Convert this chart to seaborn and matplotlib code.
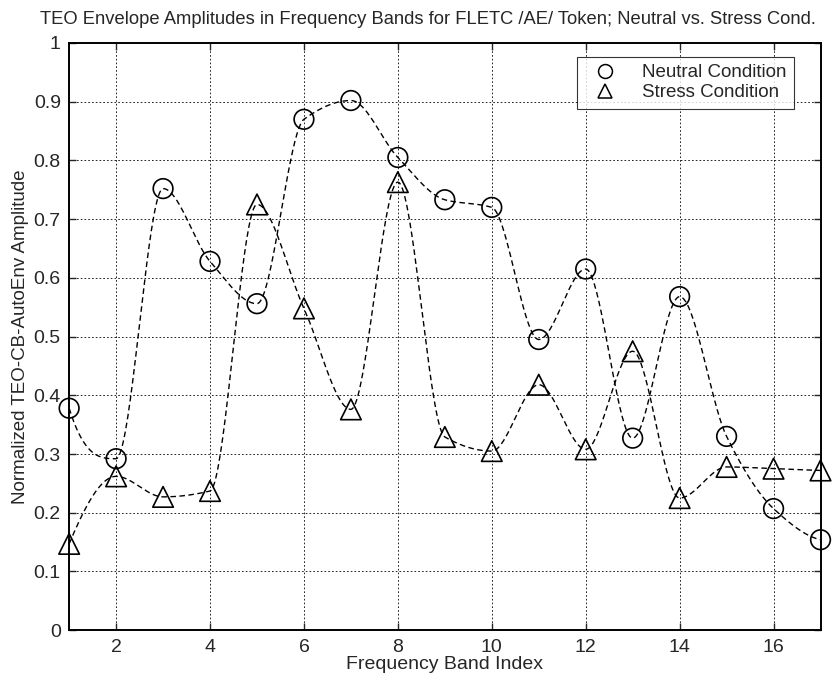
import numpy as np
import pandas as pd
import matplotlib
matplotlib.use("Agg")
import matplotlib.pyplot as plt
from matplotlib.lines import Line2D
import seaborn as sns

bands = list(range(1, 18))
neutral = [0.378, 0.292, 0.752, 0.628, 0.556, 0.870, 0.902, 0.805, 0.733,
           0.720, 0.495, 0.615, 0.327, 0.568, 0.330, 0.207, 0.154]
stress = [0.147, 0.262, 0.227, 0.237, 0.725, 0.548, 0.376, 0.763, 0.329,
          0.305, 0.418, 0.308, 0.475, 0.225, 0.278, 0.275, 0.272]
title = "TEO Envelope Amplitudes in Frequency Bands for FLETC /AE/ Token; Neutral vs. Stress Cond."
xlabel = "Frequency Band Index"
ylabel = "Normalized TEO-CB-AutoEnv Amplitude"
xticks = [2, 4, 6, 8, 10, 12, 14, 16]
yticks = [0, 0.1, 0.2, 0.3, 0.4, 0.5, 0.6, 0.7, 0.8, 0.9, 1]
ytick_labels = ["0", "0.1", "0.2", "0.3", "0.4", "0.5", "0.6", "0.7", "0.8", "0.9", "1"]


def pchip_curve(x, y, n=40):
    """Shape-preserving piecewise cubic Hermite curve through the data points."""
    x = np.asarray(x, float)
    y = np.asarray(y, float)
    h = np.diff(x)
    delta = np.diff(y) / h
    N = len(x)
    d = np.zeros(N)
    for k in range(1, N - 1):
        if np.sign(delta[k - 1]) * np.sign(delta[k]) > 0:
            w1 = 2 * h[k] + h[k - 1]
            w2 = h[k] + 2 * h[k - 1]
            d[k] = (w1 + w2) / (w1 / delta[k - 1] + w2 / delta[k])

    def end_slope(h0, h1, d0, d1):
        s = ((2 * h0 + h1) * d0 - h0 * d1) / (h0 + h1)
        if np.sign(s) != np.sign(d0):
            s = 0.0
        elif np.sign(d0) != np.sign(d1) and abs(s) > abs(3 * d0):
            s = 3 * d0
        return s

    d[0] = end_slope(h[0], h[1], delta[0], delta[1])
    d[-1] = end_slope(h[-1], h[-2], delta[-1], delta[-2])
    xs, ys = [], []
    for i in range(N - 1):
        t = np.linspace(x[i], x[i + 1], n, endpoint=(i == N - 2))
        s = (t - x[i]) / h[i]
        h00 = 2 * s ** 3 - 3 * s ** 2 + 1
        h10 = s ** 3 - 2 * s ** 2 + s
        h01 = -2 * s ** 3 + 3 * s ** 2
        h11 = s ** 3 - s ** 2
        xs.append(t)
        ys.append(h00 * y[i] + h10 * h[i] * d[i] + h01 * y[i + 1] + h11 * h[i] * d[i + 1])
    return np.concatenate(xs), np.concatenate(ys)


sns.set_style("ticks")
plt.rcParams["font.family"] = ["Liberation Sans", "DejaVu Sans"]

fig = plt.figure(figsize=(8.33, 6.82), dpi=100)
ax = fig.add_axes([0.083, 0.076, 0.902, 0.861])

xn, yn = pchip_curve(bands, neutral)
xs_, ys_ = pchip_curve(bands, stress)
curves = pd.concat([
    pd.DataFrame({"x": xn, "y": yn, "cond": "Neutral"}),
    pd.DataFrame({"x": xs_, "y": ys_, "cond": "Stress"}),
])
sns.lineplot(data=curves, x="x", y="y", units="cond", estimator=None,
             color="black", linestyle=(0, (4, 2.5)), linewidth=1.0, ax=ax,
             legend=False, sort=False)

pts = pd.DataFrame({"band": bands, "Neutral": neutral, "Stress": stress})
sns.scatterplot(data=pts, x="band", y="Neutral", marker="o", s=200,
                facecolors="none", edgecolor="black", linewidth=1.2, ax=ax,
                legend=False, zorder=3, clip_on=False)
sns.scatterplot(data=pts, x="band", y="Stress", marker="^", s=220,
                facecolors="none", edgecolor="black", linewidth=1.2, ax=ax,
                legend=False, zorder=3, clip_on=False)

ax.set_xlim(1, 17)
ax.set_ylim(0, 1)
ax.set_xticks(xticks)
ax.set_yticks(yticks)
ax.set_yticklabels(ytick_labels)
ax.grid(True, color="black", linestyle=(0, (2, 2.5)), linewidth=0.6)
ax.tick_params(direction="in", length=5, width=1, top=True, right=True,
               labelsize=14, pad=6)
for sp in ax.spines.values():
    sp.set_visible(True)
    sp.set_linewidth(1.4)
    sp.set_color("black")

fig.text(0.514, 0.965, title, fontsize=13.2, ha="center", va="baseline")
ax.set_xlabel(xlabel, fontsize=14, labelpad=0)
ax.set_ylabel(ylabel, fontsize=13.5, labelpad=3)

handles = [
    Line2D([], [], marker="o", linestyle="none", markersize=10,
           markerfacecolor="none", markeredgecolor="black", markeredgewidth=1.1),
    Line2D([], [], marker="^", linestyle="none", markersize=10,
           markerfacecolor="none", markeredgecolor="black", markeredgewidth=1.1),
]
leg = ax.legend(handles, ["Neutral Condition", "Stress Condition"],
                loc="upper right", bbox_to_anchor=(0.97, 0.983), fontsize=13.5,
                frameon=True, fancybox=False, edgecolor="black",
                handletextpad=0.9, borderpad=0.4, labelspacing=0.15,
                handlelength=2.2, borderaxespad=0.2)
leg.get_frame().set_linewidth(0.8)

fig.savefig("out.png", dpi=100)
